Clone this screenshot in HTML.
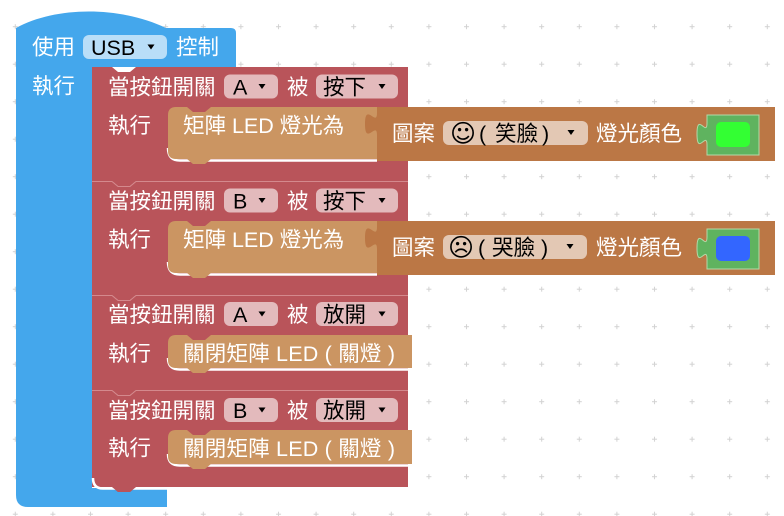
<!DOCTYPE html>
<html><head><meta charset="utf-8"><style>
html,body{margin:0;padding:0;background:#fff;}
svg{display:block}
text{font-family:"Liberation Sans","Noto Sans CJK TC",sans-serif;font-size:21.5px;fill:#fff;}
.k{fill:#000}
.f{font-family:"DejaVu Sans","Liberation Sans",sans-serif;font-size:25px;fill:#000}
</style></head><body>
<svg width="784" height="516" viewBox="0 0 784 516" xmlns="http://www.w3.org/2000/svg">
<defs>
<pattern id="g" x="12.8" y="24.2" width="37.6" height="37.5" patternUnits="userSpaceOnUse">
<path d="M0,2.5H5M2.5,0V5" stroke="#d2d2d2" stroke-width="1"/>
</pattern>
</defs>
<rect width="784" height="516" fill="#fff"/>
<rect width="784" height="516" fill="url(#g)"/>

<!-- blue hat block -->
<path d="M16,28 C56,6 120,6 166,28 H231 Q236,28 236,33 V67 H92 V488 H167 V507 H28 Q16,507 16,495 Z" fill="#44a7ec"/>
<text x="32" y="54.5">使用</text>
<rect x="83" y="35" width="84" height="24" rx="6" fill="#b9def8"/>
<text class="k" x="91" y="55">USB</text>
<path d="M147.5,44.5 h7 l-3.5,5 z" fill="#000"/>
<text x="176" y="54.5">控制</text>
<text x="32" y="93.5">執行</text>

<!-- red blocks -->
<path d="M92,67 H112 l6,5 h12 l6,-5 H408 V181 H136 l-6,5 h-12 l-6,-5 H92 Z" fill="#b9545a"/>
<path d="M92,181 H112 l6,5 h12 l6,-5 H408 V295 H136 l-6,5 h-12 l-6,-5 H92 Z" fill="#b9545a"/>
<path d="M92,181.5 H112 l6,5 h12 l6,-5 H408" fill="none" stroke="#d4898d" stroke-width="1"/>
<path d="M92,295 H112 l6,5 h12 l6,-5 H408 V390 H136 l-6,5 h-12 l-6,-5 H92 Z" fill="#b9545a"/>
<path d="M92,295.5 H112 l6,5 h12 l6,-5 H408" fill="none" stroke="#d4898d" stroke-width="1"/>
<path d="M92,390 H112 l6,5 h12 l6,-5 H408 V487 H136 l-6,5 h-12 l-6,-5 H92 Z" fill="#b9545a"/>
<path d="M92,390.5 H112 l6,5 h12 l6,-5 H408" fill="none" stroke="#d4898d" stroke-width="1"/>
<path d="M93,478 Q93,488.5 103,488.5 H167" fill="none" stroke="#fff" stroke-width="2.5"/>
<path d="M112,487 l6,5 h12 l6,-5 Z" fill="#b9545a"/>

<!-- headers -->
<g>
<text x="108" y="94.5">當按鈕開關</text>
<rect x="224" y="74.5" width="54" height="24" rx="6" fill="#e3babc"/>
<text class="k" x="233" y="94.5">A</text>
<path d="M258.5,84 h7 l-3.5,5 z" fill="#000"/>
<text x="287" y="94.5">被</text>
<rect x="316" y="74.5" width="82" height="24" rx="6" fill="#e3babc"/>
<text class="k" x="323" y="94.5">按下</text>
<path d="M378.5,84 h7 l-3.5,5 z" fill="#000"/>
<text x="108" y="133">執行</text>
</g>
<g>
<text x="108" y="208.5">當按鈕開關</text>
<rect x="224" y="188.5" width="54" height="24" rx="6" fill="#e3babc"/>
<text class="k" x="233" y="208.5">B</text>
<path d="M258.5,198 h7 l-3.5,5 z" fill="#000"/>
<text x="287" y="208.5">被</text>
<rect x="316" y="188.5" width="82" height="24" rx="6" fill="#e3babc"/>
<text class="k" x="323" y="208.5">按下</text>
<path d="M378.5,198 h7 l-3.5,5 z" fill="#000"/>
<text x="108" y="247">執行</text>
</g>
<g>
<text x="108" y="322">當按鈕開關</text>
<rect x="224" y="302" width="54" height="24" rx="6" fill="#e3babc"/>
<text class="k" x="233" y="322">A</text>
<path d="M258.5,311.5 h7 l-3.5,5 z" fill="#000"/>
<text x="287" y="322">被</text>
<rect x="316" y="302" width="82" height="24" rx="6" fill="#e3babc"/>
<text class="k" x="323" y="322">放開</text>
<path d="M378.5,311.5 h7 l-3.5,5 z" fill="#000"/>
<text x="108" y="361">執行</text>
</g>
<g>
<text x="108" y="418">當按鈕開關</text>
<rect x="224" y="398" width="54" height="24" rx="6" fill="#e3babc"/>
<text class="k" x="233" y="418">B</text>
<path d="M258.5,407.5 h7 l-3.5,5 z" fill="#000"/>
<text x="287" y="418">被</text>
<rect x="316" y="398" width="82" height="24" rx="6" fill="#e3babc"/>
<text class="k" x="323" y="418">放開</text>
<path d="M378.5,407.5 h7 l-3.5,5 z" fill="#000"/>
<text x="108" y="455.5">執行</text>
</g>

<!-- tan blocks -->
<path d="M168,148 Q168,160.5 180,160.5 H377" fill="none" stroke="#fff" stroke-width="2.5"/>
<path d="M168,115 Q168,107 176,107 H187 l6,5 h12 l6,-5 H377 V159 H211 l-6,5 h-12 l-6,-5 H176 Q168,159 168,151 Z" fill="#cb9562"/>
<text x="183" y="133">矩陣 LED 燈光為</text>

<path d="M168,262 Q168,274.5 180,274.5 H377" fill="none" stroke="#fff" stroke-width="2.5"/>
<path d="M168,229 Q168,221 176,221 H187 l6,5 h12 l6,-5 H377 V273 H211 l-6,5 h-12 l-6,-5 H176 Q168,273 168,265 Z" fill="#cb9562"/>
<text x="183" y="247">矩陣 LED 燈光為</text>

<path d="M168,358 Q168,369.5 180,369.5 H410" fill="none" stroke="#fff" stroke-width="2.5"/>
<path d="M168,343 Q168,335 176,335 H187 l6,5 h12 l6,-5 H412 V368 H211 l-6,5 h-12 l-6,-5 H176 Q168,368 168,360 Z" fill="#cb9562"/>
<text x="183" y="361" textLength="212">關閉矩陣 LED ( 關燈 )</text>

<path d="M168,454 Q168,465.5 180,465.5 H410" fill="none" stroke="#fff" stroke-width="2.5"/>
<path d="M168,438 Q168,430 176,430 H187 l6,5 h12 l6,-5 H412 V464 H211 l-6,5 h-12 l-6,-5 H176 Q168,464 168,456 Z" fill="#cb9562"/>
<text x="183" y="456" textLength="212">關閉矩陣 LED ( 關燈 )</text>

<!-- value blocks -->
<path d="M377,107 H775 V161 H377 V135 c0,-14.5 -12,11.5 -12,-11 s12,3.5 12,-11 Z" fill="#bb7745"/>
<text x="392" y="141">圖案</text>
<rect x="443" y="121" width="145" height="24" rx="6" fill="#e3c8b4"/>
<text class="f" x="450" y="142">☺</text>
<text class="k" x="479" y="141">(</text>
<text class="k" x="495" y="141">笑臉</text>
<text class="k" x="542" y="141">)</text>
<path d="M567.5,130 h7 l-3.5,5 z" fill="#000"/>
<text x="596" y="141">燈光顏色</text>
<path d="M707,115 H759 V155 H707 V145 c0,-14.5 -10,11.5 -10,-11 s10,3.5 10,-11 Z" fill="#5fb35f" stroke="#b3d9a8" stroke-width="1"/>
<rect x="716" y="122" width="34" height="25" rx="5" fill="#33ff33"/>

<path d="M377,221 H775 V275 H377 V249 c0,-14.5 -12,11.5 -12,-11 s12,3.5 12,-11 Z" fill="#bb7745"/>
<text x="392" y="255">圖案</text>
<rect x="443" y="235" width="144" height="24" rx="6" fill="#e3c8b4"/>
<text class="f" x="448" y="256">☹</text>
<text class="k" x="478" y="255">(</text>
<text class="k" x="492" y="255">哭臉</text>
<text class="k" x="541" y="255">)</text>
<path d="M566.5,244 h7 l-3.5,5 z" fill="#000"/>
<text x="596" y="255">燈光顏色</text>
<path d="M707,229 H759 V269 H707 V259 c0,-14.5 -10,11.5 -10,-11 s10,3.5 10,-11 Z" fill="#5fb35f" stroke="#b3d9a8" stroke-width="1"/>
<rect x="716" y="236" width="34" height="25" rx="5" fill="#3366ff"/>
</svg>
</body></html>
